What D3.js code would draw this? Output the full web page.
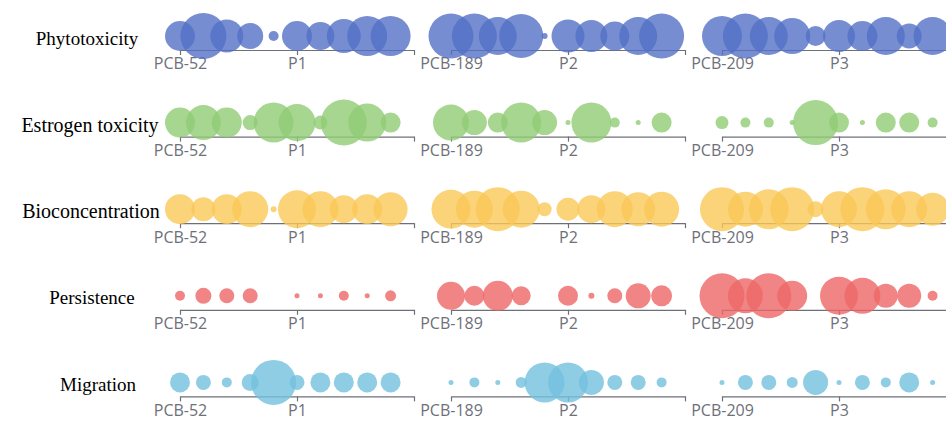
<!DOCTYPE html>
<html>
<head>
<meta charset="utf-8">
<script src="https://cdn.jsdelivr.net/npm/d3@7/dist/d3.min.js"></script>
<style>
  html, body { margin: 0; padding: 0; background: #fff; }
  svg { display: block; }
</style>
</head>
<body>
<svg id="chart" width="946" height="421"></svg>
<script>
// ---- data ----
const indicators = ["Phytotoxicity", "Estrogen toxicity", "Bioconcentration", "Persistence", "Migration"];
const groups = ["PCB-52", "PCB-189", "PCB-209"];
const tickLabels = [["PCB-52", "P1", ""], ["PCB-189", "P2", ""], ["PCB-209", "P3", ""]];
const tickValues = [0, 5, 10];
const positions = [0, 1, 2, 3, 4, 5, 6, 7, 8, 9];

// values (0-100) per indicator, per group, for 10 positions
const phytotoxicity = [
  [60, 92, 66, 52, 20, 60, 56, 68, 80, 80],
  [90, 90, 76, 88, 12, 66, 64, 58, 76, 90],
  [80, 90, 76, 72, 40, 64, 60, 76, 50, 76]
];
const estrogenToxicity = [
  [60, 70, 60, 30, 80, 74, 28, 92, 76, 40],
  [72, 50, 40, 80, 50, 10, 80, 20, 10, 40],
  [26, 20, 20, 10, 90, 40, 10, 40, 40, 20]
];
const bioconcentration = [
  [60, 48, 60, 72, 12, 76, 72, 56, 60, 68],
  [78, 74, 88, 74, 28, 46, 56, 72, 68, 70],
  [88, 70, 80, 88, 32, 72, 88, 80, 72, 66]
];
const persistence = [
  [20, 32, 30, 30, 0, 10, 10, 20, 10, 22],
  [56, 40, 60, 38, 0, 40, 12, 30, 50, 42],
  [90, 70, 90, 60, 0, 76, 72, 48, 48, 20]
];
const migration = [
  [40, 30, 20, 34, 90, 30, 40, 40, 40, 40],
  [10, 20, 10, 22, 80, 80, 50, 30, 30, 20],
  [10, 30, 30, 22, 50, 10, 30, 20, 40, 10]
];
const seriesValues = [phytotoxicity, estrogenToxicity, bioconcentration, persistence, migration];
const colors = ["#5470c6", "#91cc75", "#fac858", "#ee6666", "#73c0de"];

// ---- layout ----
const svg = d3.select("#chart");
const panelStart = 180, panelStep = 271, panelWidth = 234;
const rowStart = 50, rowStep = 86.6;
const bubbleOffset = 14;
const rScale = d3.scaleLinear().domain([0, 100]).range([0, 25]);
// row-label placement (centre x and font size of each label)
const labelCenter = [87, 90, 91, 92, 98];
const labelSize = [19, 20, 20, 19, 19];

indicators.forEach((name, ri) => {
  const axisY = rowStart + ri * rowStep;

  svg.append("text")
    .attr("x", labelCenter[ri])
    .attr("y", axisY - 12)
    .attr("text-anchor", "middle")
    .attr("dominant-baseline", "central")
    .attr("font-family", "'Liberation Serif', 'Times New Roman', serif")
    .attr("font-size", labelSize[ri])
    .attr("fill", "#000")
    .text(name);

  groups.forEach((g, gi) => {
    const x0 = panelStart + gi * panelStep;
    const x = d3.scaleLinear().domain([0, 10]).range([x0, x0 + panelWidth]);

    const axis = d3.axisBottom(x)
      .tickValues(tickValues)
      .tickSize(5)
      .tickSizeOuter(0)
      .tickFormat((d, i) => tickLabels[gi][i]);

    const ag = svg.append("g")
      .attr("transform", `translate(0,${axisY})`)
      .call(axis);
    ag.select(".domain").attr("stroke", "#6e7079").attr("stroke-width", 1.2);
    ag.selectAll(".tick line").attr("stroke", "#6e7079").attr("stroke-width", 1.2);
    ag.selectAll(".tick text")
      .attr("fill", "#6e7079")
      .attr("font-family", "'Open Sans', 'Noto Sans', sans-serif")
      .attr("font-size", 16)
      .attr("y", 8)
      .attr("dy", "0.71em");

    const vals = seriesValues[ri][gi];
    svg.append("g")
      .selectAll("circle")
      .data(positions.filter(p => vals[p] > 0))
      .join("circle")
      .attr("cx", p => x(p))
      .attr("cy", axisY - bubbleOffset)
      .attr("r", p => rScale(vals[p]))
      .attr("fill", colors[ri])
      .attr("fill-opacity", 0.8);
  });
});
</script>
</body>
</html>
